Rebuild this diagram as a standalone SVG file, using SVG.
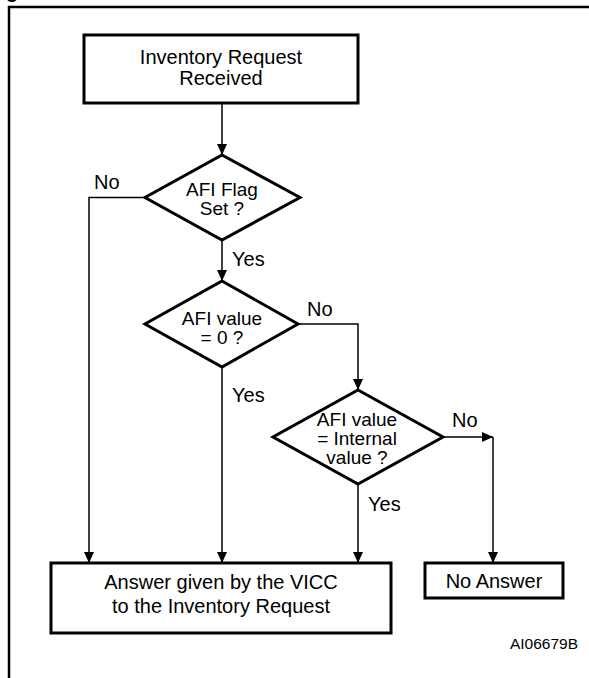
<svg xmlns="http://www.w3.org/2000/svg" width="589" height="678" viewBox="0 0 589 678">
<style>
.box{fill:#fff;stroke:#000;stroke-width:3}
.dia{fill:#fff;stroke:#000;stroke-width:3;stroke-linejoin:miter}
.t{font-family:"Liberation Sans",Arial,sans-serif;font-size:20px;fill:#000}
.d{font-size:19px}
.c{text-anchor:middle}
.ln{fill:none;stroke:#000;stroke-width:1.5}
.frame{fill:none;stroke:#000;stroke-width:2.5}
</style>
<defs>
<marker id="ah" markerUnits="userSpaceOnUse" markerWidth="11" markerHeight="10" refX="11" refY="5" orient="auto">
<path d="M0,0 L11,5 L0,10 Z" fill="#000"/>
</marker>
</defs>
<text x="6" y="-2" style="font-family:'Liberation Sans',Arial,sans-serif;font-size:20px;font-weight:bold">g</text>
<path class="frame" d="M9,678 V7 H589"/>
<g id="connectors">
<path class="ln" d="M222,103 V155" marker-end="url(#ah)"/>
<path class="ln" d="M145,197.5 H89 V563" marker-end="url(#ah)"/>
<path class="ln" d="M222,240 V281" marker-end="url(#ah)"/>
<path class="ln" d="M222,367 V563" marker-end="url(#ah)"/>
<path class="ln" d="M298,324 H358 V390" marker-end="url(#ah)"/>
<path class="ln" d="M358,484 V563" marker-end="url(#ah)"/>
<path class="ln" d="M443,437 H493" marker-end="url(#ah)"/>
<path class="ln" d="M493,437 V563" marker-end="url(#ah)"/>
</g>
<g id="labels">
<text class="t" x="94" y="189">No</text>
<text class="t" x="232" y="266">Yes</text>
<text class="t" x="307" y="316">No</text>
<text class="t" x="232" y="402">Yes</text>
<text class="t" x="452" y="427">No</text>
<text class="t" x="368" y="511">Yes</text>
</g>
<g id="start">
<rect class="box" x="84" y="35" width="274" height="68"/>
<text class="t c" x="221" y="63.5">Inventory Request</text>
<text class="t c" x="221" y="85">Received</text>
</g>
<g id="afiFlag">
<polygon class="dia" points="222,155 300,197.5 222,240 145,197.5"/>
<text class="t d c" x="222" y="196">AFI Flag</text>
<text class="t d c" x="222" y="215">Set ?</text>
</g>
<g id="afiZero">
<polygon class="dia" points="222,281 298,324 222,367 145,324"/>
<text class="t d c" x="222" y="324.5">AFI value</text>
<text class="t d c" x="222" y="343.5">= 0 ?</text>
</g>
<g id="afiInternal">
<polygon class="dia" points="358,390 443,437 358,484 273,437"/>
<text class="t d c" x="357" y="426">AFI value</text>
<text class="t d c" x="357" y="445">= Internal</text>
<text class="t d c" x="357" y="464">value ?</text>
</g>
<g id="answer">
<rect class="box" x="51" y="563" width="340" height="70"/>
<text class="t c" x="221" y="589">Answer given by the VICC</text>
<text class="t c" x="221" y="613">to the Inventory Request</text>
</g>
<g id="noAnswer">
<rect class="box" x="425" y="563" width="138" height="35"/>
<text class="t c" x="494" y="588">No Answer</text>
</g>
<text class="t" x="578" y="649" style="font-size:15.5px;text-anchor:end">AI06679B</text>
</svg>
